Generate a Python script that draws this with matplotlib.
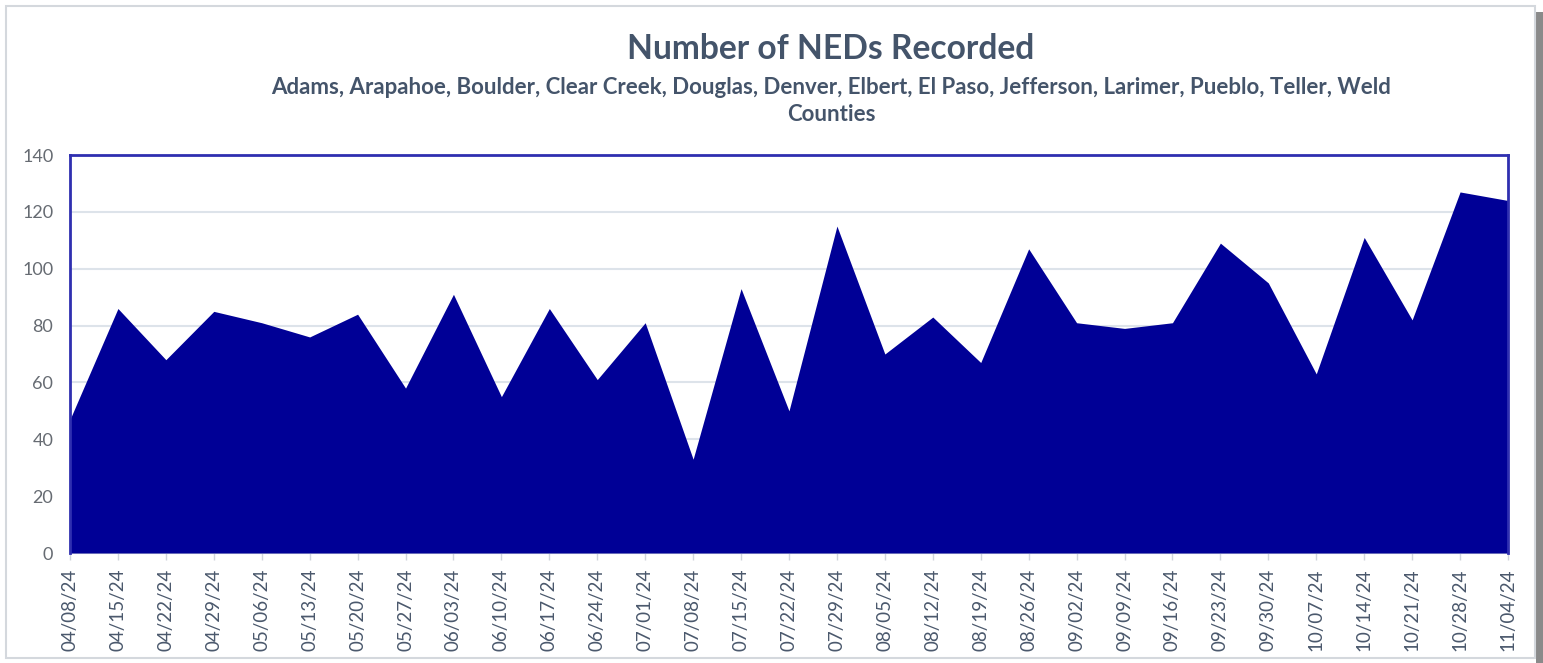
import matplotlib
matplotlib.use("Agg")
import matplotlib.pyplot as plt
from matplotlib.patches import Rectangle
import numpy as np

# weekly counts
week_labels = ["04/08/24", "04/15/24", "04/22/24", "04/29/24", "05/06/24", "05/13/24",
               "05/20/24", "05/27/24", "06/03/24", "06/10/24", "06/17/24", "06/24/24",
               "07/01/24", "07/08/24", "07/15/24", "07/22/24", "07/29/24", "08/05/24",
               "08/12/24", "08/19/24", "08/26/24", "09/02/24", "09/09/24", "09/16/24",
               "09/23/24", "09/30/24", "10/07/24", "10/14/24", "10/21/24", "10/28/24",
               "11/04/24"]
ned_counts = [47, 86, 68, 85, 81, 76, 84, 58, 91, 55, 86, 61, 81, 33, 93, 50, 115, 70,
              83, 67, 107, 81, 79, 81, 109, 95, 63, 111, 82, 127, 124]
y_ticks = [0, 20, 40, 60, 80, 100, 120, 140]

title = "Number of NEDs Recorded"
subtitle = ("Adams, Arapahoe, Boulder, Clear Creek, Douglas, Denver, Elbert, El Paso, "
            "Jefferson, Larimer, Pueblo, Teller, Weld\nCounties")

plt.rcParams['font.family'] = ['Lato', 'DejaVu Sans']

W, H = 1543, 663
fig = plt.figure(figsize=(W / 100, H / 100), dpi=100)
fig.patch.set_facecolor("white")

# outer chart frame with a shadow on the right
fig.patches.append(Rectangle((1536 / W, 0), 7 / W, 1 - 12 / H, transform=fig.transFigure,
                             facecolor="#8a8a8a", edgecolor="none", zorder=-3))
fig.patches.append(Rectangle((6 / W, 5 / H), 1529 / W, 1 - 11 / H, transform=fig.transFigure,
                             facecolor="white", edgecolor="#d4d8dd", lw=1.5, zorder=-2))

ax = fig.add_axes([70 / W, 1 - 553 / H, 1438 / W, 398 / H])
ax.set_zorder(2)
ax.set_facecolor("none")
x = np.arange(len(ned_counts))
ax.fill_between(x, 0, ned_counts, color="#000096", lw=0, zorder=3)

ax.set_xlim(0, len(ned_counts) - 1)
ax.set_ylim(0, 140)
ax.set_yticks(y_ticks)
ax.set_xticks(x)
ax.set_xticklabels(week_labels, rotation=90)
ax.grid(axis="y", color="#dde3ea", lw=1.5, zorder=1)
ax.set_axisbelow(True)

for side in ["top", "left", "right"]:
    ax.spines[side].set_color("#2f2fb0")
    ax.spines[side].set_linewidth(2)
    ax.spines[side].set_zorder(4)
ax.spines["bottom"].set_color("#d0d5dc")

ax.tick_params(axis="y", length=0, pad=12, labelsize=13, labelcolor="#666b72")
ax.tick_params(axis="x", length=5, width=1, color="#d0d5dc", pad=6, labelsize=13.5,
               labelcolor="#4a586c")

fig.text(831 / W, 1 - 49 / H, title, ha="center", va="center", fontsize=24.2,
         fontweight="bold", color="#44546a")
fig.text(831 / W, 1 - 101 / H, subtitle, ha="center", va="center", fontsize=16,
         fontweight="bold", color="#44546a", linespacing=1.3)

fig.savefig("out.png", dpi=100)
